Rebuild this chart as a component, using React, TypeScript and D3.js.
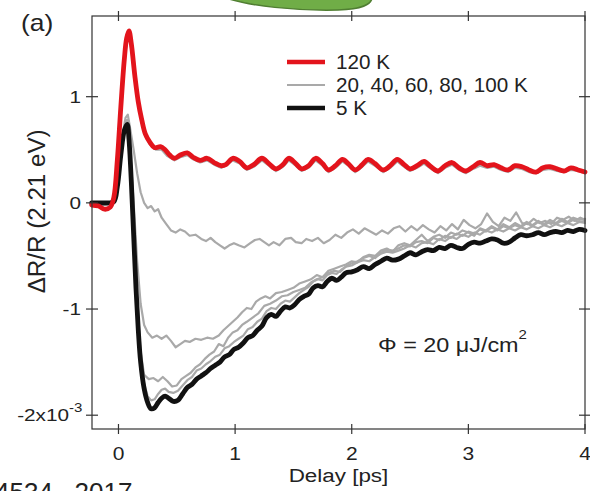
import React from "react";
import * as d3 from "d3";

const W = 590;
const H = 491;

const xTickValues = [0, 1, 2, 3, 4];
const xTickLabels = ["0", "1", "2", "3", "4"];
const yTickValues = [1, 0, -1, -2];
const yTickLabels = ["1", "0", "-1", "-2x10"];
const legendLabels = ["120 K", "20, 40, 60, 80, 100 K", "5 K"];

// ΔR/R in units of 1e-3, delay in ps
const red120K: [number, number][] = [
  [-0.23, -0.02], [-0.17, -0.03], [-0.12, -0.06], [-0.07, -0.04], [-0.04, 0.05], [-0.01, 0.4], [0.02, 0.9], [0.05, 1.35], [0.07, 1.55], [0.09, 1.62], [0.11, 1.5], [0.14, 1.2], [0.17, 0.95], [0.2, 0.78], [0.23, 0.65], [0.27, 0.57], [0.31, 0.52], [0.36, 0.53], [0.4, 0.5], [0.44, 0.45], [0.48, 0.42], [0.53, 0.45], [0.59, 0.47], [0.64, 0.43], [0.7, 0.4], [0.76, 0.42], [0.82, 0.38], [0.88, 0.35], [0.92, 0.36], [0.98, 0.42], [1.04, 0.39], [1.1, 0.33], [1.16, 0.36], [1.23, 0.42], [1.29, 0.37], [1.35, 0.32], [1.41, 0.36], [1.46, 0.42], [1.52, 0.37], [1.57, 0.32], [1.63, 0.35], [1.69, 0.42], [1.75, 0.37], [1.8, 0.31], [1.86, 0.35], [1.92, 0.41], [1.97, 0.37], [2.03, 0.31], [2.09, 0.36], [2.14, 0.41], [2.2, 0.37], [2.27, 0.31], [2.33, 0.35], [2.39, 0.41], [2.45, 0.36], [2.5, 0.32], [2.56, 0.35], [2.62, 0.39], [2.68, 0.34], [2.74, 0.3], [2.8, 0.35], [2.86, 0.38], [2.92, 0.33], [2.98, 0.3], [3.04, 0.34], [3.1, 0.38], [3.16, 0.35], [3.22, 0.36], [3.28, 0.33], [3.34, 0.31], [3.4, 0.35], [3.46, 0.34], [3.52, 0.31], [3.58, 0.29], [3.64, 0.33], [3.7, 0.34], [3.76, 0.32], [3.82, 0.3], [3.88, 0.33], [3.94, 0.31], [4.0, 0.29],
];

const grey100K: [number, number][] = [
  [-0.23, 0], [-0.1, -0.02], [-0.04, 0.03], [-0.01, 0.35], [0.02, 0.85], [0.05, 1.3], [0.07, 1.5], [0.09, 1.56], [0.11, 1.45], [0.14, 1.15], [0.17, 0.92], [0.2, 0.75], [0.23, 0.63], [0.27, 0.55], [0.32, 0.5], [0.37, 0.5], [0.42, 0.44], [0.48, 0.4], [0.53, 0.43], [0.59, 0.45], [0.64, 0.41], [0.7, 0.38], [0.76, 0.4], [0.82, 0.36], [0.88, 0.33], [0.92, 0.35], [0.98, 0.4], [1.04, 0.37], [1.1, 0.31], [1.16, 0.34], [1.23, 0.4], [1.29, 0.35], [1.35, 0.3], [1.41, 0.34], [1.46, 0.4], [1.52, 0.35], [1.57, 0.3], [1.63, 0.33], [1.69, 0.4], [1.75, 0.35], [1.8, 0.29], [1.86, 0.33], [1.92, 0.39], [1.97, 0.35], [2.03, 0.29], [2.09, 0.34], [2.14, 0.39], [2.2, 0.35], [2.27, 0.29], [2.33, 0.33], [2.39, 0.39], [2.45, 0.34], [2.5, 0.3], [2.56, 0.33], [2.62, 0.37], [2.68, 0.32], [2.74, 0.28], [2.8, 0.33], [2.86, 0.36], [2.92, 0.31], [2.98, 0.28], [3.04, 0.32], [3.1, 0.35], [3.16, 0.33], [3.22, 0.34], [3.28, 0.31], [3.34, 0.29], [3.4, 0.33], [3.46, 0.32], [3.52, 0.29], [3.58, 0.28], [3.64, 0.31], [3.7, 0.32], [3.76, 0.3], [3.82, 0.29], [3.88, 0.31], [3.94, 0.3], [4.0, 0.28],
];

const grey80K: [number, number][] = [
  [-0.23, 0.0], [-0.1, -0.02], [-0.04, 0.02], [0.0, 0.3], [0.03, 0.6], [0.06, 0.8], [0.08, 0.83], [0.1, 0.7], [0.13, 0.5], [0.16, 0.28], [0.19, 0.1], [0.22, 0.0], [0.25, -0.05], [0.28, -0.03], [0.31, -0.08], [0.34, -0.06], [0.37, -0.14], [0.41, -0.2], [0.45, -0.26], [0.49, -0.28], [0.53, -0.25], [0.57, -0.27], [0.61, -0.31], [0.66, -0.3], [0.71, -0.34], [0.75, -0.36], [0.79, -0.33], [0.83, -0.37], [0.87, -0.4], [0.91, -0.43], [0.95, -0.4], [0.99, -0.38], [1.03, -0.4], [1.08, -0.42], [1.13, -0.38], [1.17, -0.35], [1.21, -0.34], [1.25, -0.37], [1.29, -0.4], [1.33, -0.37], [1.38, -0.4], [1.43, -0.34], [1.48, -0.33], [1.52, -0.37], [1.57, -0.38], [1.61, -0.34], [1.66, -0.36], [1.71, -0.33], [1.76, -0.38], [1.81, -0.35], [1.86, -0.3], [1.91, -0.33], [1.96, -0.28], [2.01, -0.25], [2.06, -0.29], [2.11, -0.24], [2.16, -0.27], [2.21, -0.3], [2.26, -0.26], [2.31, -0.29], [2.36, -0.24], [2.41, -0.22], [2.46, -0.27], [2.51, -0.22], [2.56, -0.26], [2.61, -0.21], [2.66, -0.25], [2.71, -0.28], [2.76, -0.22], [2.81, -0.26], [2.86, -0.2], [2.91, -0.25], [2.96, -0.16], [3.01, -0.21], [3.06, -0.24], [3.11, -0.2], [3.16, -0.1], [3.21, -0.18], [3.26, -0.22], [3.31, -0.14], [3.36, -0.17], [3.41, -0.09], [3.46, -0.19], [3.51, -0.2], [3.56, -0.15], [3.61, -0.19], [3.66, -0.17], [3.71, -0.2], [3.76, -0.14], [3.81, -0.16], [3.86, -0.13], [3.91, -0.17], [3.96, -0.14], [4.0, -0.16],
];

const grey60K: [number, number][] = [
  [-0.23, 0], [-0.04, 0.0], [0.0, 0.3], [0.04, 0.65], [0.07, 0.78], [0.1, 0.5], [0.13, 0.0], [0.16, -0.55], [0.19, -0.95], [0.22, -1.15], [0.25, -1.22], [0.29, -1.27], [0.33, -1.25], [0.37, -1.28], [0.41, -1.25], [0.45, -1.3], [0.49, -1.36], [0.53, -1.33], [0.57, -1.3], [0.61, -1.31], [0.66, -1.28], [0.71, -1.29], [0.76, -1.27], [0.81, -1.28], [0.86, -1.25], [0.9, -1.2], [0.94, -1.16], [0.98, -1.12], [1.02, -1.08], [1.06, -1.03], [1.1, -0.99], [1.14, -1.0], [1.18, -0.93], [1.22, -0.9], [1.26, -0.88], [1.3, -0.9], [1.35, -0.85], [1.4, -0.84], [1.45, -0.82], [1.5, -0.8], [1.55, -0.76], [1.6, -0.74], [1.65, -0.72], [1.7, -0.68], [1.75, -0.7], [1.8, -0.64], [1.85, -0.62], [1.9, -0.6], [1.95, -0.58], [2.0, -0.55], [2.05, -0.56], [2.1, -0.51], [2.15, -0.49], [2.2, -0.5], [2.25, -0.45], [2.3, -0.43], [2.35, -0.46], [2.4, -0.4], [2.45, -0.38], [2.5, -0.4], [2.55, -0.35], [2.6, -0.3], [2.65, -0.36], [2.7, -0.32], [2.75, -0.3], [2.8, -0.33], [2.85, -0.28], [2.9, -0.3], [2.95, -0.26], [3.0, -0.28], [3.05, -0.31], [3.1, -0.24], [3.15, -0.26], [3.2, -0.22], [3.25, -0.25], [3.3, -0.2], [3.35, -0.23], [3.4, -0.19], [3.45, -0.22], [3.5, -0.18], [3.55, -0.21], [3.6, -0.17], [3.65, -0.2], [3.7, -0.16], [3.75, -0.19], [3.8, -0.15], [3.85, -0.18], [3.9, -0.14], [3.95, -0.16], [4.0, -0.15],
];

const grey40K: [number, number][] = [
  [-0.23, 0], [-0.04, 0], [0.0, 0.25], [0.04, 0.6], [0.07, 0.76], [0.1, 0.45], [0.13, -0.2], [0.16, -0.9], [0.19, -1.4], [0.22, -1.62], [0.26, -1.66], [0.3, -1.65], [0.34, -1.68], [0.38, -1.64], [0.42, -1.68], [0.46, -1.73], [0.5, -1.72], [0.54, -1.66], [0.58, -1.63], [0.62, -1.6], [0.66, -1.55], [0.7, -1.52], [0.74, -1.47], [0.78, -1.43], [0.82, -1.4], [0.86, -1.33], [0.9, -1.35], [0.94, -1.27], [0.98, -1.22], [1.02, -1.2], [1.06, -1.15], [1.1, -1.12], [1.15, -1.08], [1.2, -1.04], [1.25, -0.97], [1.3, -0.95], [1.35, -0.92], [1.4, -0.88], [1.45, -0.87], [1.5, -0.84], [1.55, -0.82], [1.6, -0.8], [1.65, -0.75], [1.7, -0.72], [1.75, -0.7], [1.8, -0.66], [1.85, -0.64], [1.9, -0.65], [1.95, -0.6], [2.0, -0.57], [2.05, -0.55], [2.1, -0.52], [2.15, -0.5], [2.2, -0.52], [2.25, -0.47], [2.3, -0.44], [2.35, -0.45], [2.4, -0.43], [2.45, -0.4], [2.5, -0.41], [2.55, -0.37], [2.6, -0.36], [2.65, -0.38], [2.7, -0.33], [2.75, -0.35], [2.8, -0.31], [2.85, -0.33], [2.9, -0.29], [2.95, -0.31], [3.0, -0.27], [3.05, -0.29], [3.1, -0.25], [3.15, -0.27], [3.2, -0.23], [3.25, -0.26], [3.3, -0.22], [3.35, -0.24], [3.4, -0.21], [3.45, -0.23], [3.5, -0.19], [3.55, -0.22], [3.6, -0.18], [3.65, -0.21], [3.7, -0.18], [3.75, -0.2], [3.8, -0.17], [3.85, -0.19], [3.9, -0.16], [3.95, -0.18], [4.0, -0.17],
];

const grey20K: [number, number][] = [
  [-0.23, 0], [-0.04, 0.0], [-0.01, 0.18], [0.02, 0.5], [0.05, 0.72], [0.075, 0.78], [0.09, 0.62], [0.11, 0.25], [0.13, -0.25], [0.15, -0.75], [0.17, -1.15], [0.19, -1.45], [0.22, -1.7], [0.25, -1.82], [0.28, -1.86], [0.31, -1.85], [0.34, -1.8], [0.37, -1.76], [0.4, -1.75], [0.43, -1.78], [0.47, -1.79], [0.51, -1.77], [0.55, -1.72], [0.59, -1.67], [0.63, -1.64], [0.67, -1.58], [0.71, -1.56], [0.75, -1.52], [0.79, -1.49], [0.83, -1.45], [0.87, -1.43], [0.91, -1.37], [0.95, -1.35], [0.99, -1.31], [1.03, -1.28], [1.07, -1.25], [1.11, -1.19], [1.15, -1.17], [1.19, -1.12], [1.23, -1.09], [1.27, -1.02], [1.31, -0.99], [1.35, -1.0], [1.39, -0.95], [1.43, -0.92], [1.47, -0.93], [1.51, -0.89], [1.55, -0.85], [1.59, -0.82], [1.63, -0.79], [1.67, -0.74], [1.71, -0.72], [1.75, -0.73], [1.79, -0.68], [1.83, -0.66], [1.87, -0.67], [1.91, -0.63], [1.95, -0.6], [2.0, -0.59], [2.05, -0.56], [2.1, -0.54], [2.15, -0.55], [2.2, -0.51], [2.25, -0.48], [2.3, -0.46], [2.35, -0.47], [2.4, -0.45], [2.45, -0.43], [2.5, -0.4], [2.55, -0.42], [2.6, -0.38], [2.65, -0.37], [2.7, -0.39], [2.75, -0.34], [2.8, -0.36], [2.85, -0.32], [2.9, -0.34], [2.95, -0.3], [3.0, -0.32], [3.05, -0.28], [3.1, -0.3], [3.15, -0.26], [3.2, -0.28], [3.25, -0.25], [3.3, -0.27], [3.35, -0.24], [3.4, -0.26], [3.45, -0.23], [3.5, -0.25], [3.55, -0.22], [3.6, -0.24], [3.65, -0.21], [3.7, -0.23], [3.75, -0.2], [3.8, -0.22], [3.85, -0.19], [3.9, -0.21], [3.95, -0.18], [4.0, -0.19],
];

const black5K: [number, number][] = [
  [-0.23, 0.0], [-0.1, 0.0], [-0.04, 0.01], [-0.01, 0.15], [0.02, 0.45], [0.05, 0.68], [0.075, 0.74], [0.09, 0.6], [0.11, 0.2], [0.13, -0.3], [0.15, -0.8], [0.17, -1.2], [0.19, -1.5], [0.22, -1.75], [0.25, -1.88], [0.28, -1.94], [0.31, -1.93], [0.34, -1.88], [0.37, -1.84], [0.4, -1.82], [0.43, -1.84], [0.47, -1.87], [0.51, -1.86], [0.55, -1.8], [0.59, -1.74], [0.63, -1.71], [0.67, -1.66], [0.71, -1.63], [0.75, -1.6], [0.79, -1.56], [0.83, -1.53], [0.87, -1.5], [0.91, -1.45], [0.95, -1.43], [0.99, -1.38], [1.03, -1.36], [1.07, -1.32], [1.11, -1.27], [1.15, -1.25], [1.19, -1.2], [1.23, -1.16], [1.27, -1.08], [1.31, -1.05], [1.35, -1.07], [1.39, -1.02], [1.43, -0.98], [1.47, -0.99], [1.51, -0.96], [1.55, -0.91], [1.59, -0.88], [1.63, -0.86], [1.67, -0.8], [1.71, -0.78], [1.75, -0.79], [1.79, -0.74], [1.83, -0.71], [1.87, -0.73], [1.91, -0.7], [1.95, -0.66], [2.0, -0.65], [2.05, -0.63], [2.1, -0.6], [2.15, -0.62], [2.2, -0.58], [2.25, -0.55], [2.3, -0.52], [2.35, -0.54], [2.4, -0.53], [2.45, -0.5], [2.5, -0.47], [2.55, -0.49], [2.6, -0.46], [2.65, -0.44], [2.7, -0.45], [2.75, -0.42], [2.8, -0.43], [2.85, -0.4], [2.9, -0.42], [2.95, -0.43], [3.0, -0.39], [3.05, -0.37], [3.1, -0.38], [3.15, -0.36], [3.2, -0.34], [3.25, -0.35], [3.3, -0.38], [3.35, -0.37], [3.4, -0.33], [3.45, -0.3], [3.5, -0.31], [3.55, -0.3], [3.6, -0.28], [3.65, -0.3], [3.7, -0.28], [3.75, -0.27], [3.8, -0.28], [3.85, -0.26], [3.9, -0.27], [3.95, -0.25], [4.0, -0.26],
];

const greySeries = [grey100K, grey80K, grey60K, grey40K, grey20K];

const FONT = "'Liberation Sans', Arial, sans-serif";
const TXT = "#222";

type TProps = {
  x: number;
  y: number;
  size: number;
  sx?: number;
  anchor?: "start" | "middle" | "end";
  children: React.ReactNode;
  family?: string;
};

function T({ x, y, size, sx = 1, anchor = "start", children, family }: TProps) {
  return (
    <text
      transform={`translate(${x},${y}) scale(${sx},1)`}
      fontSize={size}
      textAnchor={anchor}
      fill={TXT}
      fontFamily={family || FONT}
    >
      {children}
    </text>
  );
}

export default function App() {
  const x = d3.scaleLinear().domain([-0.227, 4.0]).range([92, 585]);
  const y = d3.scaleLinear().domain([-2.13, 1.76]).range([429, 16]);
  const jagged = d3
    .line<[number, number]>()
    .x((d) => x(d[0]))
    .y((d) => y(d[1]))
    .curve(d3.curveLinear);
  const smooth = d3
    .line<[number, number]>()
    .x((d) => x(d[0]))
    .y((d) => y(d[1]))
    .curve(d3.curveCatmullRom.alpha(0.5));

  const x0 = x.range()[0];
  const x1 = x.range()[1];
  const yTop = y.range()[1];
  const yBot = y.range()[0];

  return (
    <svg
      width={W}
      height={H}
      style={{ position: "absolute", left: 0, top: 0, background: "#fff" }}
      fontFamily={FONT}
    >
      <rect x={0} y={0} width={W} height={H} fill="#fff" />
      {/* green callout fragment at top */}
      <path
        d="M 226 -2 C 250 6, 295 11, 338 10 C 362 9, 371 5, 372 -2 Z"
        fill="#70ad47"
        stroke="#507e32"
        strokeWidth={1.5}
      />

      {/* data */}
      <g fill="none" strokeLinejoin="round" strokeLinecap="round">
        {greySeries.map((s, i) => (
          <path key={i} d={jagged(s) || ""} stroke="#a9a9a9" strokeWidth={2.2} />
        ))}
        <path d={smooth(black5K) || ""} stroke="#111" strokeWidth={4.8} />
        <path d={smooth(red120K) || ""} stroke="#e3141c" strokeWidth={4.8} />
      </g>

      {/* frame */}
      <rect
        x={x0}
        y={yTop}
        width={x1 - x0}
        height={yBot - yTop}
        fill="none"
        stroke="#333"
        strokeWidth={1.2}
      />
      {xTickValues.map((v) => (
        <g key={"xt" + v} stroke="#333" strokeWidth={1.2}>
          <line x1={x(v)} x2={x(v)} y1={yBot - 5} y2={yBot + 5} />
          <line x1={x(v)} x2={x(v)} y1={yTop - 5} y2={yTop + 5} />
        </g>
      ))}
      {yTickValues.map((v) => (
        <g key={"yt" + v} stroke="#333" strokeWidth={1.2}>
          <line x1={x0 - 6} x2={x0 + 6} y1={y(v)} y2={y(v)} />
          <line x1={x1 - 6} x2={x1 + 6} y1={y(v)} y2={y(v)} />
        </g>
      ))}

      {/* tick labels */}
      {xTickValues.map((v, i) => (
        <T key={"xl" + v} x={x(v)} y={460} size={17.5} sx={1.2} anchor="middle">
          {xTickLabels[i]}
        </T>
      ))}
      {yTickValues.map((v, i) => (
        <T key={"yl" + v} x={v === -2 ? 69 : 81} y={y(v) + 6} size={17} sx={1.22} anchor="end">
          {yTickLabels[i]}
        </T>
      ))}
      <T x={69} y={y(-2) - 3} size={12.5} sx={1.2}>
        -3
      </T>

      {/* axis titles */}
      <T x={(x0 + x1) / 2} y={482} size={19} sx={1.18} anchor="middle">
        Delay [ps]
      </T>
      <text
        transform={`translate(45, ${y(-0.08)}) rotate(-90) scale(1.1, 1.12)`}
        textAnchor="middle"
        fontSize={22}
        fill={TXT}
      >
        ΔR/R (2.21 eV)
      </text>

      {/* panel label */}
      <T x={21} y={31} size={23} sx={1.15}>
        (a)
      </T>

      {/* legend */}
      <g>
        <line x1={287} x2={325} y1={62} y2={62} stroke="#e3141c" strokeWidth={4.5} />
        <line x1={287} x2={325} y1={85} y2={85} stroke="#a9a9a9" strokeWidth={2} />
        <line x1={287} x2={325} y1={108} y2={108} stroke="#111" strokeWidth={4.5} />
        <T x={336} y={69} size={19.5} sx={1.06}>{legendLabels[0]}</T>
        <T x={336} y={92} size={19.5} sx={1.06}>{legendLabels[1]}</T>
        <T x={336} y={115} size={19.5} sx={1.06}>{legendLabels[2]}</T>
      </g>

      {/* fluence annotation */}
      <T x={378} y={352} size={19.5} sx={1.2}>
        Φ = 20 μJ/cm
        <tspan dy={-13} fontSize={12.5}>2</tspan>
      </T>

      {/* citation fragment at bottom */}
      <T x={-5} y={501} size={26}>
        4534 , 2017
      </T>
    </svg>
  );
}
